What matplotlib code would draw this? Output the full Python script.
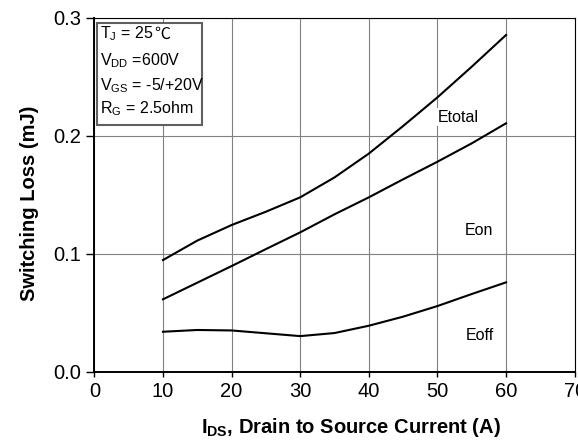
import matplotlib
matplotlib.use("Agg")
import matplotlib.pyplot as plt
from matplotlib.patches import Rectangle
from matplotlib.transforms import blended_transform_factory, IdentityTransform

plt.rcParams['font.family'] = ['Liberation Sans', 'DejaVu Sans']
plt.rcParams['mathtext.fontset'] = 'custom'
plt.rcParams['mathtext.rm'] = 'Liberation Sans'
plt.rcParams['mathtext.bf'] = 'Liberation Sans:bold'
plt.rcParams['mathtext.it'] = 'Liberation Sans:italic'

# values (A, mJ)
current = [10, 15, 20, 25, 30, 35, 40, 45, 50, 55, 60]
etotal = [0.0947, 0.1112, 0.1244, 0.1357, 0.1479, 0.1648, 0.1850, 0.2084, 0.2327, 0.2587, 0.2856]
eon = [0.0614, 0.0755, 0.0896, 0.1040, 0.1182, 0.1335, 0.1479, 0.1632, 0.1781, 0.1937, 0.2107]
eoff = [0.0339, 0.0354, 0.0350, 0.0326, 0.0302, 0.0328, 0.0390, 0.0467, 0.0557, 0.0659, 0.0758]

x_ticks = [0, 10, 20, 30, 40, 50, 60, 70]
y_ticks = [0.0, 0.1, 0.2, 0.3]
cond_lines = [r'T$_\mathregular{J}$ = 25',
              r'V$_\mathregular{DD}$ =600V',
              r'V$_\mathregular{GS}$ = -5/+20V',
              r'R$_\mathregular{G}$ = 2.5ohm']
cond_base = [0.9421, 0.8658, 0.7951, 0.7301]

fig, ax = plt.subplots(figsize=(5.78, 4.41), dpi=100)
fig.subplots_adjust(left=0.1632, right=0.9943, bottom=0.1571, top=0.9592)

ax.plot(current, etotal, color='black', lw=1.5, zorder=3)
ax.plot(current, eon, color='black', lw=1.5, zorder=3)
ax.plot(current, eoff, color='black', lw=1.5, zorder=3)

ax.set_xlim(0, 70)
ax.set_ylim(0, 0.3)
ax.set_xticks(x_ticks)
ax.set_yticks(y_ticks)
ax.set_yticklabels(['{:.1f}'.format(v) for v in y_ticks])
ax.grid(True, color='#808080', lw=0.8)
ax.set_axisbelow(True)

ax.tick_params(axis='y', direction='out', length=5.5, width=1, pad=4, labelsize=14.5)
ax.tick_params(axis='x', direction='out', length=3.6, width=1, pad=4, labelsize=14.5)

for side in ['left', 'bottom']:
    ax.spines[side].set_linewidth(1.4)
for side in ['top', 'right']:
    ax.spines[side].set_linewidth(0.8)

ax.set_ylabel('Switching Loss (mJ)', fontsize=14.5, fontweight='bold')
ax.yaxis.set_label_coords(-0.115, 0.475)
ax.set_xlabel(r'I$_\mathbf{DS}$, Drain to Source Current (A)', fontsize=14.5, fontweight='bold')
ax.xaxis.set_label_coords(0.535, -0.125)

# curve names
box = dict(facecolor='white', edgecolor='none', pad=1)
ax.text(53.0, 0.216, 'Etotal', fontsize=11.5, ha='center', va='center', bbox=box, zorder=2)
ax.text(56.05, 0.1196, 'Eon', fontsize=11.5, ha='center', va='center', bbox=box, zorder=2)
ax.text(56.2, 0.0305, 'Eoff', fontsize=11.5, ha='center', va='center', bbox=box, zorder=2)

# test condition box
ax.add_patch(Rectangle((0.0062, 0.6966), 0.2174, 0.2901, transform=ax.transAxes,
                       facecolor='white', edgecolor='#606060', lw=1.5, zorder=4))
texts = []
for line, yb in zip(cond_lines, cond_base):
    texts.append(ax.text(0.0119, yb, line, transform=ax.transAxes,
                         fontsize=11.5, ha='left', va='baseline', zorder=5))

# degree-Celsius sign after the first line
fig.canvas.draw()
bb = texts[0].get_window_extent()
trans = blended_transform_factory(IdentityTransform(), ax.transAxes)
ax.text(bb.x1 + 1, cond_base[0], '℃', transform=trans, fontsize=11.5,
        family=['Noto Sans CJK SC', 'DejaVu Sans'], ha='left', va='baseline', zorder=5)

fig.savefig('out.png', dpi=100)
